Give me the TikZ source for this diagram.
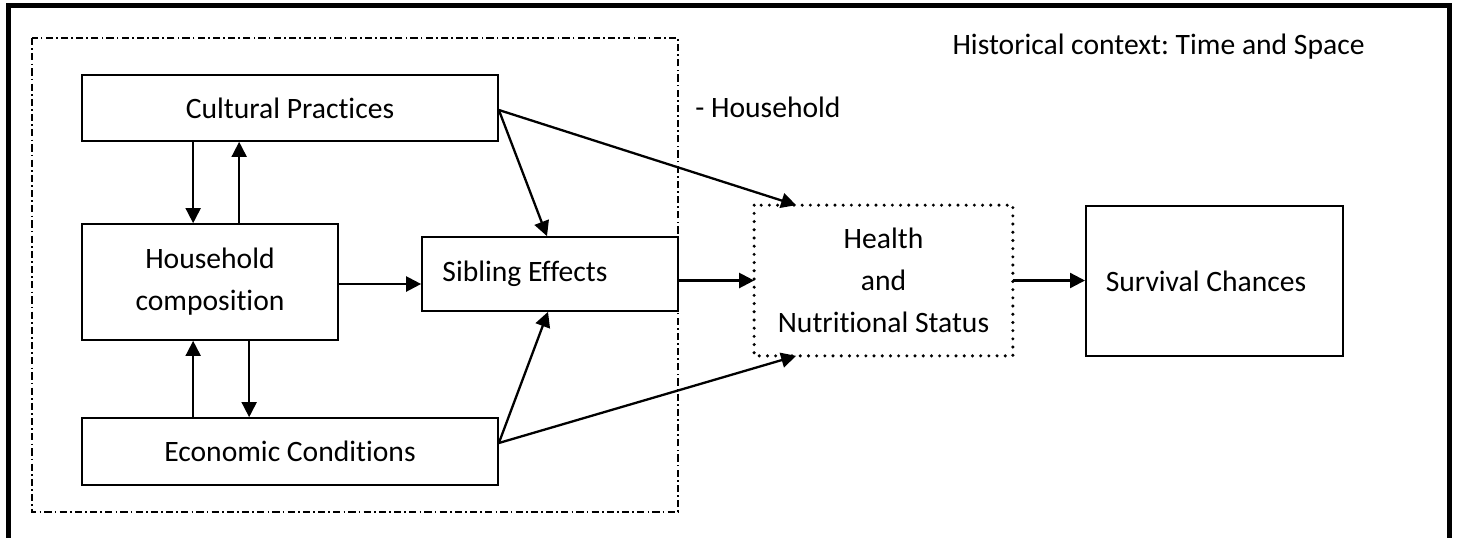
\documentclass[tikz,border=0pt]{standalone}
\usepackage{fontspec}
\setmainfont{Carlito}[Ligatures={NoCommon}]
\usetikzlibrary{arrows.meta}
\frenchspacing
\begin{document}
\begin{tikzpicture}[x=0.5pt,y=-0.5pt,
  box/.style={draw,line width=0.85pt,rectangle,inner sep=0pt,align=center,
    font=\fontsize{14.8}{21}\selectfont},
  arr/.style={line width=1.15pt,-{Triangle[length=7.5pt,width=7.5pt]}},
  varr/.style={arr,line width=0.9pt},
  lbl/.style={font=\fontsize{14.8}{21}\selectfont,inner sep=0pt}]
\useasboundingbox (0,0) rectangle (1457,537);
\clip (0,0) rectangle (1457,537);
% outer frame (open at bottom)
\draw[line width=2.75pt] (8.5,560) -- (8.5,5.5) -- (1449.5,5.5) -- (1449.5,560);
% household dash-dot region
\draw[line width=0.9pt,dash pattern=on 3.6pt off 1.6pt on 0.8pt off 1.6pt] (32,38) rectangle (678,512);
% nodes
\node[box,minimum width=208pt,minimum height=33pt] (cult) at (290,108) {Cultural Practices};
\node[box,minimum width=128pt,minimum height=58pt] (hh) at (210,282) {Household\\composition};
\node[box,minimum width=128pt,minimum height=37pt] (sib) at (550,274) {Sibling Effects\hspace*{25pt}};
\node[box,minimum width=208pt,minimum height=33.5pt] (econ) at (290,451.5) {Economic Conditions};
\node[box,draw=none,minimum width=128.5pt,minimum height=74.5pt] (health) at (883.5,280.5) {Health\\and\\Nutritional Status};
\draw[line width=1.7pt,line cap=round,dash pattern=on 0pt off 4.1pt] (health.north west) rectangle (health.south east);
\node[box,line width=1pt,minimum width=128.5pt,minimum height=75pt] (surv) at (1214.5,281) {Survival Chances\hspace*{8.5pt}};
% labels
\node[lbl,anchor=west] (hlab) at (695,107) {- Household};
\node[lbl,anchor=east] (ctx) at (1365,47) {Historical context: Time and Space};
% arrows
\draw[varr] ([xshift=56pt]cult.south west) -- ([xshift=56pt]hh.north west);
\draw[varr] ([xshift=79pt]hh.north west) -- ([xshift=79pt]cult.south west);
\draw[varr] ([xshift=56pt]econ.north west) -- ([xshift=56pt]hh.south west);
\draw[varr] ([xshift=84pt]hh.south west) -- ([xshift=84pt]econ.north west);
\draw[arr] ([yshift=-1pt]hh.east) -- ([yshift=-1pt]hh.east -| sib.west);
\draw[arr] (sib.east |- health.west) -- (health.west);
\draw[arr] (health.east) -- (health.east -| surv.west);
\draw[arr] ([yshift=-1pt]cult.east) -- ([xshift=-1.5pt]sib.north);
\draw[arr] ([yshift=-1pt]cult.east) -- ([xshift=21pt]health.north west);
\draw[arr] ([yshift=4.25pt]econ.east) -- ([xshift=-1pt]sib.south);
\draw[arr] ([yshift=4.25pt]econ.east) -- ([xshift=21pt]health.south west);
\end{tikzpicture}
\end{document}
